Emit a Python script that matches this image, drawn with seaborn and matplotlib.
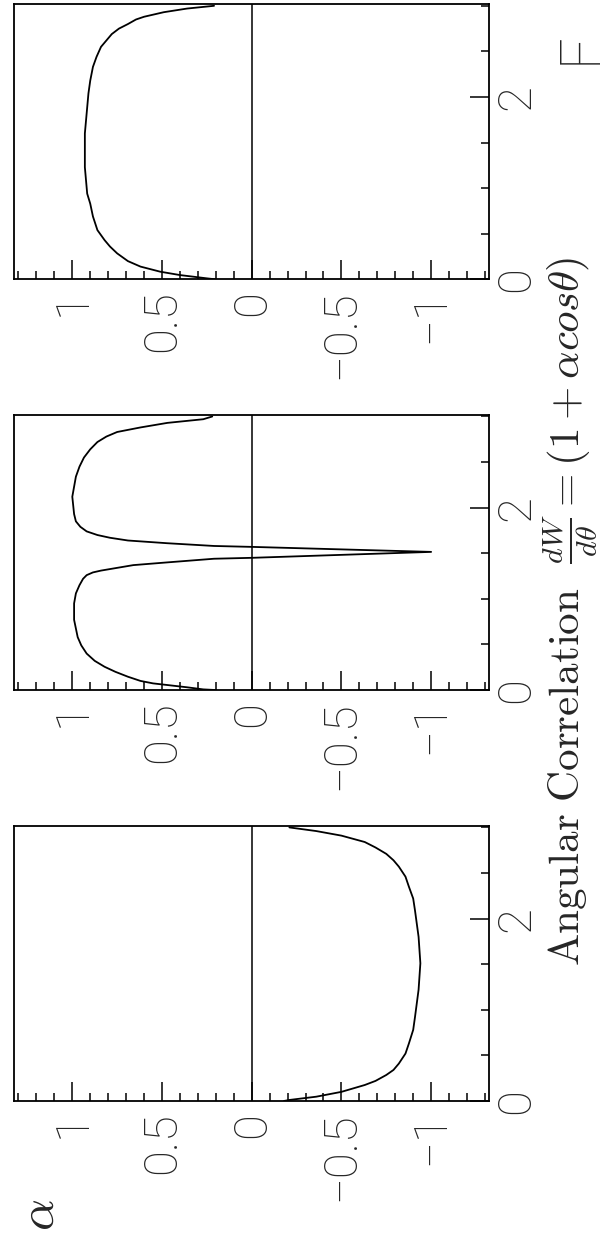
import numpy as np
import seaborn as sns
import matplotlib.pyplot as plt
from matplotlib.ticker import FixedLocator, MultipleLocator

# curves: theta (vertical axis) and alpha (horizontal axis)
theta_top = [0.0, 0.011, 0.047, 0.084, 0.14, 0.20, 0.285, 0.36, 0.43, 0.54, 0.69,
             0.83, 0.94, 1.23, 1.60, 2.04, 2.18, 2.33, 2.44, 2.55, 2.62, 2.69,
             2.75, 2.80, 2.85, 2.88, 2.93, 2.97, 3.0]
alpha_top = [0.2, 0.25, 0.40, 0.51, 0.62, 0.69, 0.75, 0.79, 0.82, 0.86, 0.885,
             0.90, 0.917, 0.93, 0.93, 0.91, 0.90, 0.885, 0.865, 0.84, 0.81, 0.78,
             0.74, 0.69, 0.645, 0.60, 0.49, 0.36, 0.21]

theta_mid = [0.0, 0.007, 0.03, 0.073, 0.10, 0.146, 0.20, 0.255, 0.32, 0.40, 0.49,
             0.58, 0.77, 0.95, 1.06, 1.15, 1.22, 1.26, 1.29, 1.31, 1.37, 1.40,
             1.44, 1.45, 1.515, 1.57, 1.58, 1.61, 1.64, 1.67, 1.70, 1.74, 1.79,
             1.85, 1.93, 2.12, 2.34, 2.45, 2.55, 2.64, 2.72, 2.78, 2.83, 2.88,
             2.93, 2.97, 3.0]
alpha_mid = [0.2, 0.27, 0.36, 0.55, 0.62, 0.69, 0.76, 0.82, 0.875, 0.92, 0.95,
             0.97, 0.99, 0.99, 0.98, 0.96, 0.94, 0.92, 0.885, 0.84, 0.66, 0.47,
             0.21, 0.0, -1.0, 0.0, 0.21, 0.47, 0.69, 0.79, 0.86, 0.92, 0.955,
             0.98, 0.99, 1.0, 0.98, 0.96, 0.935, 0.90, 0.86, 0.81, 0.75, 0.62,
             0.47, 0.27, 0.22]

theta_bot = [0.0, 0.011, 0.047, 0.10, 0.175, 0.22, 0.285, 0.34, 0.41, 0.52, 0.63,
             0.78, 0.92, 1.22, 1.51, 1.80, 2.09, 2.22, 2.35, 2.46, 2.57, 2.64,
             2.71, 2.78, 2.84, 2.91, 2.96, 3.0]
alpha_bot = [-0.18, -0.21, -0.36, -0.50, -0.63, -0.69, -0.75, -0.79, -0.82, -0.857, -0.876,
             -0.90, -0.91, -0.93, -0.94, -0.93, -0.91, -0.90, -0.876, -0.857, -0.82, -0.79,
             -0.75, -0.69, -0.63, -0.50, -0.36, -0.21]

alpha_ticks = [-1, -0.5, 0, 0.5, 1]
alpha_labels = ['\u22121', '\u22120.5', '0', '0.5', '1']
theta_ticks = [0, 2]
theta_labels = ['0', '2']

sns.set_style('white')
plt.rcParams['font.family'] = ['Roboto', 'DejaVu Sans']
plt.rcParams['mathtext.fontset'] = 'cm'

fig = plt.figure(figsize=(6.03, 12.46), dpi=100)

panels = [(theta_top, alpha_top, 0.7758), (theta_mid, alpha_mid, 0.4462),
          (theta_bot, alpha_bot, 0.1164)]

for theta, alpha, y0 in panels:
    ax = fig.add_axes([0.0232, y0, 0.787, 0.221])
    sns.lineplot(x=alpha, y=theta, sort=False, estimator=None, color='black',
                 linewidth=1.3, ax=ax)
    ax.axvline(0, color='black', linewidth=1.1)
    ax.set_xlim(1.325, -1.32)
    ax.set_ylim(0, 3.02)

    ax.xaxis.set_major_locator(FixedLocator(alpha_ticks))
    ax.set_xticklabels(alpha_labels)
    ax.xaxis.set_minor_locator(MultipleLocator(0.1))
    ax.yaxis.set_major_locator(FixedLocator(theta_ticks))
    ax.set_yticklabels(theta_labels)
    ax.yaxis.set_minor_locator(MultipleLocator(0.5))

    ax.tick_params(axis='x', which='both', direction='in', bottom=True, top=False,
                   width=1.1, color='black')
    ax.tick_params(axis='x', which='major', length=14, pad=8, labelsize=34,
                   labelrotation=90)
    ax.tick_params(axis='x', which='minor', length=6)
    ax.tick_params(axis='y', which='both', direction='in', left=False, right=True,
                   labelleft=False, labelright=True, width=1.1, color='black')
    ax.tick_params(axis='y', which='major', length=14, pad=4, labelsize=34,
                   labelrotation=90)
    ax.tick_params(axis='y', which='minor', length=6)
    for lab in ax.get_yticklabels():
        lab.set_va('center')
    for lab in ax.get_xticklabels() + ax.get_yticklabels():
        lab.set_fontweight('light')

    ax.set_xlabel('')
    ax.set_ylabel('')
    for sp in ax.spines.values():
        sp.set_linewidth(1.3)
        sp.set_color('black')

fig.text(0.945, 0.509,
         r'$\mathrm{Angular\ Correlation}\ \ \frac{dW}{d\theta} = (1 + \alpha cos\theta)$',
         rotation=90, ha='center', va='center', fontsize=31)
fig.text(0.066, 0.025, r'$\alpha$', rotation=90, ha='center', va='center', fontsize=36)
# the caption is cut by the scan edge: only its first letter shows
fig.text(0.918, 0.9486, 'F', rotation=90, ha='left', va='bottom', fontsize=40,
         fontweight='light')

fig.savefig('out.png', dpi=100, facecolor='white')
